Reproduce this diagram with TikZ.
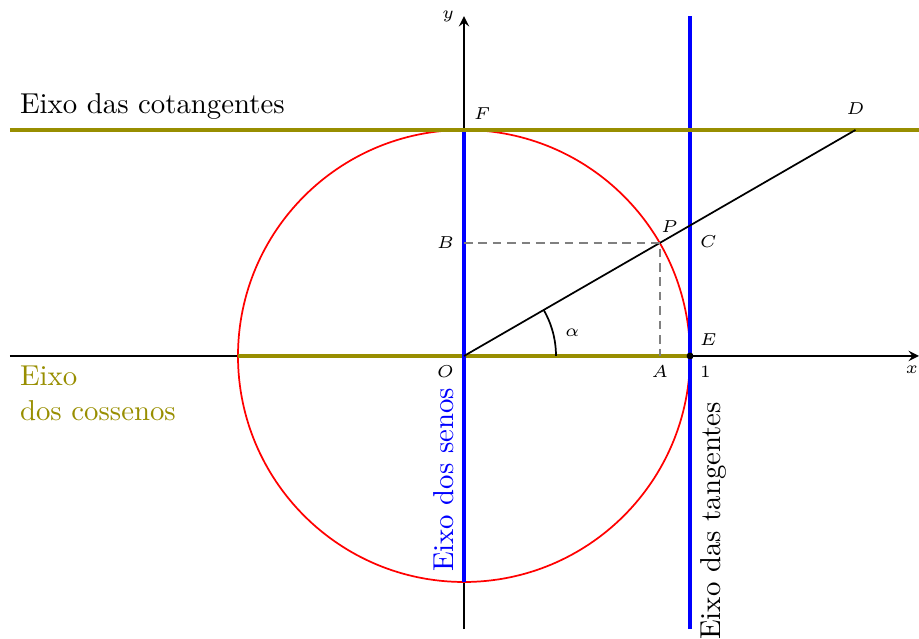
\documentclass[tikz,border=0pt]{standalone}
\definecolor{oliva}{RGB}{152,142,0}
\begin{document}
\begin{tikzpicture}[x=2.76cm, y=2.76cm, >=stealth,
    every node/.style={font=\fontsize{5.6}{7}\selectfont},
    eixo/.style={line width=1.4pt}]
  \useasboundingbox (-2.053,-1.252) rectangle (2.013,1.575);
  % pontos
  \coordinate (O) at (0,0);
  \coordinate (E) at (1,0);
  \coordinate (F) at (0,1);
  \coordinate (P) at (30:1);
  \coordinate (A) at ({cos(30)},0);
  \coordinate (B) at (0,{sin(30)});
  \coordinate (C) at (1,{tan(30)});
  \coordinate (D) at ({cot(30)},1);
  \coordinate (xl) at (-2.009,0); \coordinate (xr) at (2.013,0);
  \coordinate (yb) at (0,-1.208); \coordinate (yt) at (0,1.504);
  \coordinate (tb) at (1,-1.208); \coordinate (tt) at (1,1.504);
  \coordinate (cl) at (-2.009,1); \coordinate (cr) at (2.013,1);
  % eixos
  \draw[->, semithick] (xl) -- (xr);
  \draw[->, semithick] (yb) -- (yt);
  \node[below] at ([xshift=-2.5pt]xr) {$x$};
  \node[left] at (yt) {$y$};
  % circulo
  \draw[red, semithick] (O) circle (1);
  % eixos trigonometricos
  \draw[eixo, oliva] (-1,0) -- (E);
  \draw[eixo, blue] (0,-1) -- (F);
  \draw[eixo, blue] (tb) -- (tt);
  \draw[eixo, oliva] (cl) -- (cr);
  % segmentos
  \draw[semithick] (O) -- (D);
  \draw[thick, gray, dash pattern=on 3pt off 2pt] (B) -- (P) -- (A);
  \draw[semithick] (0.407,0) arc (0:30:0.407);
  \fill (E) circle (1.2pt);
  \node at (12:0.49) {$\alpha$};
  % rotulos
  \node[above right] at (F) {$F$};
  \node[above] at ([yshift=2pt]D) {$D$};
  \node[above right] at ([xshift=-3pt]P) {$P$};
  \node[below right] at (C) {$C$};
  \node[left] at (B) {$B$};
  \node[above right] at (E) {$E$};
  \node[below right] at (E) {$1$};
  \node[below] at (A) {$A$};
  \node[below left] at (O) {$O$};
  % nomes dos eixos
  \node[above right, font=\normalsize] at (cl) {Eixo das cotangentes};
  \node[below right, font=\normalsize, oliva, align=left] at (xl) {Eixo\\dos cossenos};
  \node[rotate=90, anchor=south west, font=\normalsize, blue] at (0,-1) {Eixo dos senos};
  \node[rotate=90, anchor=north west, font=\normalsize] at (1,-1.30) {Eixo das tangentes};
\end{tikzpicture}
\end{document}
